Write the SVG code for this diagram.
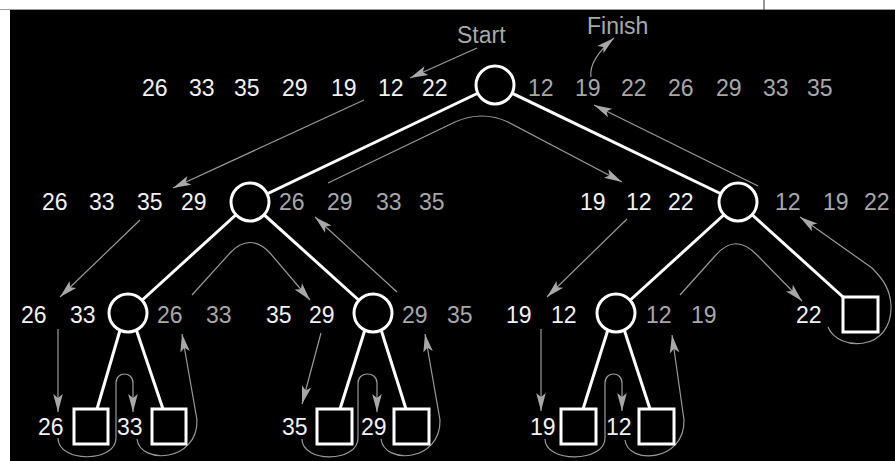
<svg xmlns="http://www.w3.org/2000/svg" width="895" height="461" viewBox="0 0 895 461">
  <style>
    .num { font-family: "Liberation Sans", Arial, Helvetica, sans-serif; font-size: 23px; }
    .in { fill: #f2f2f2; }
    .out { fill: #a8a8a8; }
    .edge { stroke: #ffffff; stroke-width: 3; fill: none; }
    .node { stroke: #ffffff; stroke-width: 3; fill: #000000; }
    .trace { stroke: #9a9a9a; stroke-width: 1.2; fill: none; marker-end: url(#arrow); }
  </style>
  <defs>
    <marker id="arrow" markerUnits="userSpaceOnUse" viewBox="-19 -6 20 12" refX="0" refY="0" markerWidth="20" markerHeight="12" orient="auto">
      <path d="M0,0 L-18,-4.8 L-14,0 L-18,4.8 Z" fill="#a8a8a8"/>
    </marker>
  </defs>

  <!-- page and panel -->
  <rect x="0" y="0" width="895" height="461" fill="#ffffff"/>
  <line x1="0" y1="9.5" x2="895" y2="9.5" stroke="#9a9a9a" stroke-width="1"/>
  <line x1="764" y1="0" x2="764" y2="10" stroke="#333333" stroke-width="1"/>
  <rect x="10" y="10" width="885" height="451" fill="#000000"/>

  <!-- tree edges -->
  <g id="edges">
    <line class="edge" x1="495" y1="85" x2="250" y2="202"/>
    <line class="edge" x1="495" y1="85" x2="738" y2="202"/>
    <line class="edge" x1="250" y1="202" x2="128" y2="313"/>
    <line class="edge" x1="250" y1="202" x2="373" y2="313"/>
    <line class="edge" x1="738" y1="202" x2="616" y2="313"/>
    <line class="edge" x1="738" y1="202" x2="843" y2="297"/>
    <line class="edge" x1="123" y1="320" x2="97" y2="409"/>
    <line class="edge" x1="133" y1="320" x2="163" y2="409"/>
    <line class="edge" x1="368" y1="320" x2="340" y2="409"/>
    <line class="edge" x1="378" y1="320" x2="406" y2="409"/>
    <line class="edge" x1="611" y1="320" x2="583" y2="409"/>
    <line class="edge" x1="621" y1="320" x2="650" y2="409"/>
  </g>

  <!-- traversal path -->
  <g id="connectors">
    <path class="trace" d="M477,48 L410,78"/>
    <path class="trace" d="M591,77 C589,64 600,50 614,38"/>
    <path class="trace" d="M364,100 L173,188"/>
    <path class="trace" d="M140,220 L60,297"/>
    <path class="trace" d="M58,329 L58,412"/>
    <path class="trace" d="M58,438 C58,463 116,463 116,438 L116,383 C116,371 133,371 133,383 L133,412"/>
    <path class="trace" d="M137,439 C140,465 198,462 197,420 L182,334"/>
    <path class="trace" d="M192,295 L230,253 Q250,232 270,253 L310,300"/>
    <path class="trace" d="M321,333 L302,404"/>
    <path class="trace" d="M302,439 C302,463 358,463 358,438 L358,383 C358,371 377,371 377,383 L377,412"/>
    <path class="trace" d="M381,439 C384,465 441,462 440,420 L425,334"/>
    <path class="trace" d="M397,292 L315,217"/>
    <path class="trace" d="M328,183 L455,122 Q482,110 508,122 L622,182"/>
    <path class="trace" d="M627,219 L547,297"/>
    <path class="trace" d="M541,329 L541,411"/>
    <path class="trace" d="M545,439 C545,463 605,463 605,438 L605,383 C605,371 622,371 622,383 L622,411"/>
    <path class="trace" d="M625,440 C628,465 685,462 684,420 L672,335"/>
    <path class="trace" d="M680,295 L715,256 Q735,232 757,255 L802,301"/>
    <path class="trace" d="M828,327 C838,352 893,352 891,305 C890,290 884,280 872,268 L800,217"/>
    <path class="trace" d="M758,186 L594,105"/>
  </g>

  <!-- nodes -->
  <g id="n-root"><circle class="node" cx="495" cy="85" r="19"/></g>
  <g id="n-l"><circle class="node" cx="250" cy="202" r="19"/></g>
  <g id="n-r"><circle class="node" cx="738" cy="202" r="19"/></g>
  <g id="n-ll"><circle class="node" cx="128" cy="313" r="19"/></g>
  <g id="n-lr"><circle class="node" cx="373" cy="313" r="19"/></g>
  <g id="n-rl"><circle class="node" cx="616" cy="313" r="19"/></g>
  <g id="n-rr"><rect class="node" x="843" y="297" width="35" height="35"/></g>
  <g id="n-lll"><rect class="node" x="74" y="409" width="34" height="35"/></g>
  <g id="n-llr"><rect class="node" x="152" y="409" width="34" height="35"/></g>
  <g id="n-lrl"><rect class="node" x="317" y="409" width="35" height="35"/></g>
  <g id="n-lrr"><rect class="node" x="394" y="409" width="35" height="35"/></g>
  <g id="n-rll"><rect class="node" x="561" y="409" width="35" height="35"/></g>
  <g id="n-rlr"><rect class="node" x="639" y="409" width="35" height="35"/></g>

  <!-- labels -->
  <g id="labels" class="num">
    <text class="out" x="457" y="43">Start</text>
    <text class="out" x="587" y="34">Finish</text>

    <text class="in" x="142" y="96">26</text>
    <text class="in" x="189" y="96">33</text>
    <text class="in" x="234" y="96">35</text>
    <text class="in" x="282" y="96">29</text>
    <text class="in" x="331" y="96">19</text>
    <text class="in" x="378" y="96">12</text>
    <text class="in" x="422" y="96">22</text>
    <text class="out" x="528" y="96">12</text>
    <text class="out" x="575" y="96">19</text>
    <text class="out" x="621" y="96">22</text>
    <text class="out" x="668" y="96">26</text>
    <text class="out" x="716" y="96">29</text>
    <text class="out" x="763" y="96">33</text>
    <text class="out" x="807" y="96">35</text>

    <text class="in" x="42" y="210">26</text>
    <text class="in" x="89" y="210">33</text>
    <text class="in" x="137" y="210">35</text>
    <text class="in" x="181" y="210">29</text>
    <text class="out" x="279" y="210">26</text>
    <text class="out" x="327" y="210">29</text>
    <text class="out" x="376" y="210">33</text>
    <text class="out" x="419" y="210">35</text>
    <text class="in" x="580" y="210">19</text>
    <text class="in" x="626" y="210">12</text>
    <text class="in" x="668" y="210">22</text>
    <text class="out" x="775" y="210">12</text>
    <text class="out" x="823" y="210">19</text>
    <text class="out" x="864" y="210">22</text>

    <text class="in" x="21" y="323">26</text>
    <text class="in" x="70" y="323">33</text>
    <text class="out" x="157" y="323">26</text>
    <text class="out" x="206" y="323">33</text>
    <text class="in" x="266" y="323">35</text>
    <text class="in" x="309" y="323">29</text>
    <text class="out" x="402" y="323">29</text>
    <text class="out" x="447" y="323">35</text>
    <text class="in" x="506" y="323">19</text>
    <text class="in" x="551" y="323">12</text>
    <text class="out" x="646" y="323">12</text>
    <text class="out" x="691" y="323">19</text>
    <text class="in" x="796" y="323">22</text>

    <text class="in" x="38" y="435">26</text>
    <text class="in" x="117" y="435">33</text>
    <text class="in" x="282" y="435">35</text>
    <text class="in" x="361" y="435">29</text>
    <text class="in" x="530" y="435">19</text>
    <text class="in" x="606" y="435">12</text>
  </g>
</svg>
